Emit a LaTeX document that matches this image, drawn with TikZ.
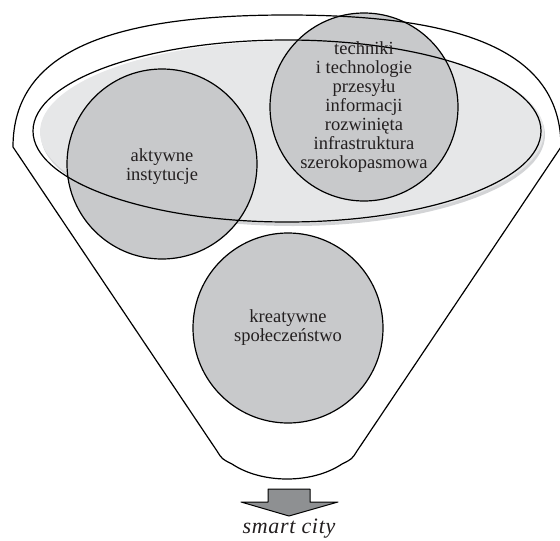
\documentclass[tikz,border=0pt]{standalone}
\usepackage{fontspec}
\setmainfont{Liberation Serif}
\definecolor{txt}{HTML}{231F20}
\definecolor{ellfill}{HTML}{E6E7E8}
\definecolor{ellshadow}{HTML}{D3D4D6}
\definecolor{circfill}{HTML}{C8C9CB}
\definecolor{arrowfill}{HTML}{8E9092}
\tikzset{
  outline/.style={draw=black, line width=1.2pt, line join=round},
  bubble/.style={circle, fill=circfill, draw=black, line width=1.2pt, minimum size=#1, inner sep=0pt},
  label/.style={text=txt, align=center, inner sep=0pt, font=\fontsize{18.5}{19}\selectfont},
}
\begin{document}
\begin{tikzpicture}[x=1pt, y=-1pt]
\useasboundingbox (0,0) rectangle (560,541);
% inner ellipse: shadow and fill
\fill[ellshadow] (293,135) ellipse [x radius=252, y radius=91];
\fill[ellfill] (292,132) ellipse [x radius=252, y radius=91];
% circles
\node[bubble=190pt] (act) at (162,164) {};
\node[bubble=188pt] (tech) at (364,107) {};
\node[bubble=190pt] (kre) at (288,328) {};
% inner ellipse outline
\draw[outline] (287,131) ellipse [x radius=254, y radius=91];
% funnel outline
\draw[outline] (13,147) -- (217,451) .. controls (222,459) .. (232,464)
  .. controls (262,484) and (312,484) .. (342,464)
  .. controls (352,459) .. (357,451) -- (561,147)
  .. controls (561,52) and (465,15) .. (287,15)
  .. controls (109,15) and (13,52) .. (13,147) -- cycle;
% texts
\node[label] (tact) at (162,167) {aktywne\\instytucje};
\node[label] (ttech) at (364,107) {techniki\\i technologie\\przesyłu\\informacji\\rozwinięta\\infrastruktura\\szerokopasmowa};
\node[label] (tkre) at (288,328) {kreatywne\\społeczeństwo};
% arrow
\coordinate (a1) at (268,489);
\draw[outline, line width=1pt, fill=arrowfill] (a1) -- (310,489) -- (310,502) -- (338,502) -- (289,516) -- (241,502) -- (268,502) -- cycle;
\node[text=txt, anchor=base, inner sep=0pt, font=\fontsize{22}{24}\selectfont\itshape\addfontfeature{LetterSpace=3}] (sc) at (289,533) {smart city};
\end{tikzpicture}
\end{document}
